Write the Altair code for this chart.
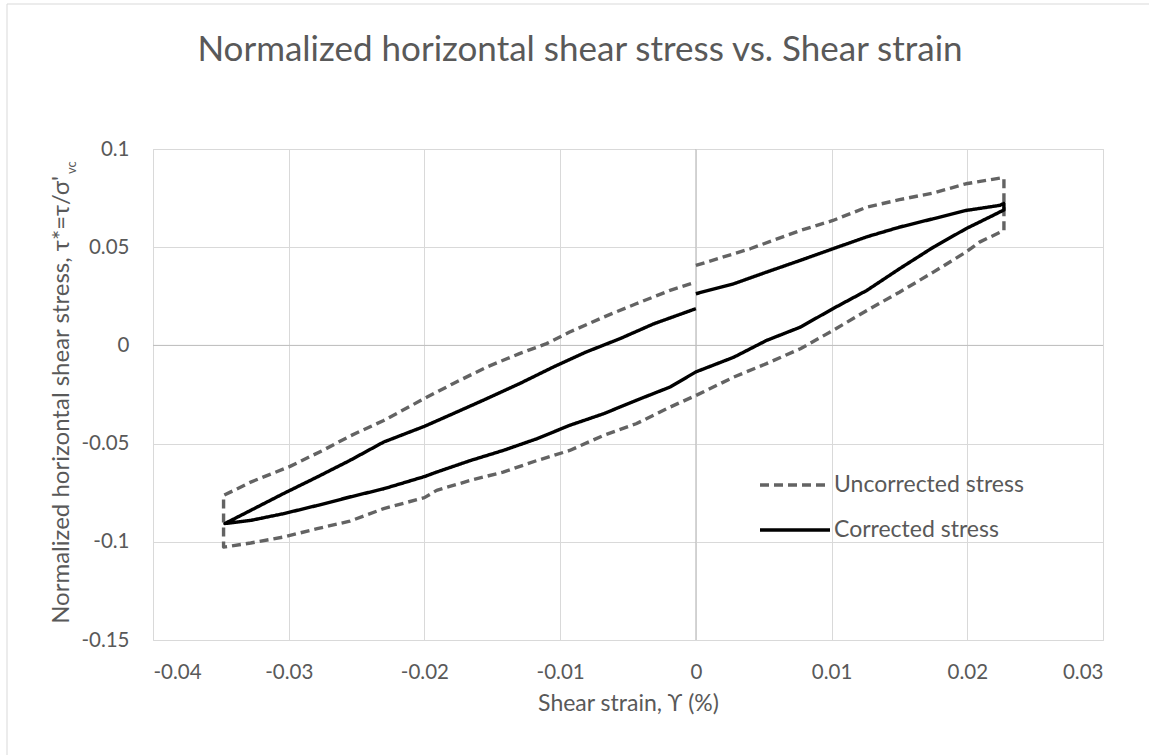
import altair as alt
import pandas as pd

# ---------------- data ----------------
series_names = ["Uncorrected stress", "Corrected stress"]
series_colors = ["#636363", "#000000"]
series_dash = [[9, 5], [1, 0]]

unc_x = [0.0, 0.0040, 0.0077, 0.0101, 0.0126, 0.0150, 0.0175, 0.0199, 0.0224, 0.0227,
         0.0227, 0.0209, 0.0199, 0.0175, 0.0150, 0.0126, 0.0101, 0.0077, 0.0052, 0.0028,
         0.0, -0.0019, -0.0044, -0.0068, -0.0093, -0.0117, -0.0142, -0.0166, -0.0191, -0.0200,
         -0.0230, -0.0255, -0.0279, -0.0304, -0.0328, -0.0348,
         -0.0348, -0.0328, -0.0299, -0.0275, -0.0255, -0.0230, -0.0198, -0.0179, -0.0154, -0.0130,
         -0.0110, -0.0093, -0.0068, -0.0044, -0.0019, 0.0]
unc_y = [0.0407, 0.0492, 0.0585, 0.0636, 0.0704, 0.0742, 0.0776, 0.0823, 0.0852, 0.0850,
         0.0585, 0.0526, 0.0475, 0.0373, 0.0271, 0.0178, 0.0076, -0.0017, -0.0093, -0.0161,
         -0.0255, -0.0314, -0.0399, -0.0458, -0.0535, -0.0586, -0.0645, -0.0687, -0.0738, -0.0775,
         -0.0831, -0.0895, -0.0933, -0.0976, -0.1006, -0.1027,
         -0.0764, -0.0696, -0.0616, -0.0535, -0.0462, -0.0382, -0.0263, -0.0195, -0.0110, -0.0042,
         0.0009, 0.0068, 0.0144, 0.0212, 0.0280, 0.0322]

cor_x = [0.0, 0.0028, 0.0052, 0.0077, 0.0101, 0.0126, 0.0150, 0.0175, 0.0199, 0.0224, 0.0227,
         0.0227, 0.0219, 0.0199, 0.0175, 0.0150, 0.0126, 0.0101, 0.0077, 0.0052, 0.0028, 0.0,
         -0.0019, -0.0044, -0.0068, -0.0093, -0.0117, -0.0142, -0.0166, -0.0191, -0.0200,
         -0.0230, -0.0255, -0.0279, -0.0304, -0.0328, -0.0347,
         -0.0328, -0.0304, -0.0279, -0.0255, -0.0230, -0.0200, -0.0179, -0.0154, -0.0130,
         -0.0105, -0.0081, -0.0056, -0.0031, 0.0]
cor_y = [0.0263, 0.0314, 0.0373, 0.0433, 0.0492, 0.0553, 0.0602, 0.0645, 0.0687, 0.0713, 0.0723,
         0.0690, 0.0662, 0.0594, 0.0500, 0.0390, 0.0280, 0.0187, 0.0093, 0.0025, -0.0060, -0.0135,
         -0.0212, -0.0280, -0.0348, -0.0407, -0.0475, -0.0535, -0.0586, -0.0645, -0.0668,
         -0.0730, -0.0772, -0.0815, -0.0857, -0.0891, -0.0907,
         -0.0840, -0.0755, -0.0670, -0.0586, -0.0492, -0.0412, -0.0348, -0.0271, -0.0195,
         -0.0110, -0.0034, 0.0034, 0.0110, 0.0187]

x_ticks = [-0.04, -0.03, -0.02, -0.01, 0, 0.01, 0.02, 0.03]
y_ticks = [-0.15, -0.1, -0.05, 0, 0.05, 0.1]

chart_title = "Normalized horizontal shear stress vs. Shear strain"
x_title = "Shear strain, \u03d2 (%)"
y_title_main = "Normalized horizontal shear stress, \u03c4*=\u03c4/\u03c3'"
y_title_sub = "vc"

# ---------------- build table ----------------
rows = []
for i, (x, y) in enumerate(zip(unc_x, unc_y)):
    rows.append({"series": series_names[0], "strain": x, "stress": y, "idx": i})
for i, (x, y) in enumerate(zip(cor_x, cor_y)):
    rows.append({"series": series_names[1], "strain": x, "stress": y, "idx": i})
df = pd.DataFrame(rows)

FONT = "Lato"
TXT = "#595959"
GRID = "#d9d9d9"
FS_TICK = 20.5
FS_TEXT = 23

W, H = 950, 491
PAD = {"left": 153, "top": 149, "right": 46, "bottom": 115}

x_scale = alt.Scale(domain=[-0.04, 0.03], nice=False, zero=False)
y_scale = alt.Scale(domain=[-0.15, 0.1], nice=False, zero=False)
color_scale = alt.Scale(domain=series_names, range=series_colors)
dash_scale = alt.Scale(domain=series_names, range=series_dash)

axis_common = dict(domain=False, ticks=False, grid=True, gridColor=GRID, gridWidth=1,
                   labelFont=FONT, labelFontSize=FS_TICK, labelColor=TXT,
                   labelExpr="'' + datum.value")

lines = alt.Chart(df).mark_line(strokeWidth=3.4, strokeJoin="round").encode(
    x=alt.X("strain:Q", scale=x_scale,
            axis=alt.Axis(values=x_ticks, title=x_title, titleFont=FONT, titleFontSize=FS_TEXT,
                          titleFontWeight="normal", titleColor=TXT, titlePadding=10,
                          labelPadding=22, **axis_common)),
    y=alt.Y("stress:Q", scale=y_scale,
            axis=alt.Axis(values=y_ticks, title=None, labelPadding=24, **axis_common)),
    color=alt.Color("series:N", scale=color_scale, legend=None),
    strokeDash=alt.StrokeDash("series:N", scale=dash_scale, legend=None),
    order=alt.Order("idx:Q"),
)

zero_v = alt.Chart(pd.DataFrame({"strain": [0.0]})).mark_rule(color="#bfbfbf", strokeWidth=1).encode(
    x=alt.X("strain:Q", scale=x_scale))
zero_h = alt.Chart(pd.DataFrame({"stress": [0.0]})).mark_rule(color="#bfbfbf", strokeWidth=1).encode(
    y=alt.Y("stress:Q", scale=y_scale))

# legend (inside the plot, drawn from the series list)
leg_df = pd.DataFrame({"series": series_names, "row": [0, 1]})
leg_base = alt.Chart(leg_df).transform_calculate(
    ly="336 + datum.row * 45")
leg_lines = leg_base.mark_rule(strokeWidth=3.4).encode(
    x=alt.value(607), x2=alt.value(677), y=alt.Y("ly:Q", scale=None),
    color=alt.Color("series:N", scale=color_scale, legend=None),
    strokeDash=alt.StrokeDash("series:N", scale=dash_scale, legend=None))
leg_text = leg_base.mark_text(font=FONT, fontSize=FS_TEXT, color=TXT, align="left",
                              baseline="middle").encode(
    x=alt.value(681), y=alt.Y("ly:Q", scale=None), text="series:N")

title_txt = alt.Chart(pd.DataFrame({"t": [chart_title]})).mark_text(
    font=FONT, fontSize=35, color=TXT, align="center", baseline="middle").encode(
    text="t:N", x=alt.value(427), y=alt.value(-99))

ytitle = alt.Chart(pd.DataFrame({"t": [y_title_main]})).mark_text(
    font=FONT, fontSize=24, color=TXT, align="right", baseline="alphabetic", angle=270).encode(
    text="t:N", x=alt.value(-84), y=alt.value(27))
ysub = alt.Chart(pd.DataFrame({"t": [y_title_sub]})).mark_text(
    font=FONT, fontSize=13, color=TXT, align="left", baseline="alphabetic", angle=270).encode(
    text="t:N", x=alt.value(-77), y=alt.value(25))

frame_top = alt.Chart(pd.DataFrame({"a": [0]})).mark_rule(color=GRID, strokeWidth=1).encode(
    x=alt.value(-146), x2=alt.value(1000), y=alt.value(-145))
frame_left = alt.Chart(pd.DataFrame({"a": [0]})).mark_rule(color=GRID, strokeWidth=1).encode(
    x=alt.value(-146), y=alt.value(-145), y2=alt.value(610))

chart = alt.layer(zero_v, zero_h, lines, leg_lines, leg_text, title_txt, ytitle, ysub,
                  frame_top, frame_left).properties(
    width=W, height=H, padding=PAD,
    autosize=alt.AutoSizeParams(type="none"),
    background="white",
).configure_view(stroke=GRID, strokeWidth=1)

chart.save("out.html", embed_options={"renderer": "svg", "actions": False})
